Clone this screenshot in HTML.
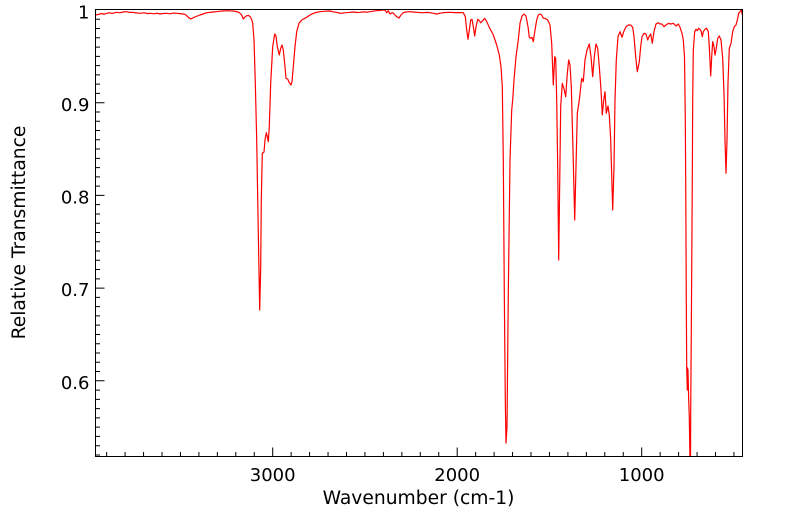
<!DOCTYPE html>
<html>
<head>
<meta charset="utf-8">
<style>
html,body{margin:0;padding:0;background:#fff;}
svg{display:block;}
text{font-family:"DejaVu Sans","Liberation Sans",sans-serif;fill:#000;}
</style>
</head>
<body>
<svg width="799" height="516" viewBox="0 0 799 516" xmlns="http://www.w3.org/2000/svg">
<defs><clipPath id="c"><rect x="95.5" y="9.5" width="647" height="447"/></clipPath></defs>
<rect width="799" height="516" fill="#fff"/>
<g clip-path="url(#c)">
<polyline fill="none" stroke="#ff0000" stroke-width="1.2" stroke-linejoin="round" points="95.5,15 98,14.5 100,14 102,13.5 104,14.2 106.7,13.3 109,12.8 112,13.4 116.7,12.3 120,12.8 123,12 126.7,11.7 130,12.4 133.3,12.3 136,12.9 140,13.3 144,12.8 148,13.6 150,13.3 154,13.8 157,13.2 160,14 163,13.5 166.7,13.3 170,13.8 173,13.1 176.7,13.3 180,13.6 183,14 185,14.3 187,16 188.3,17.3 190.7,19 193.3,17.7 196,16.5 200,15 203,14 206.7,12.7 210,12.4 213,12 216.7,11.7 220,11.2 223,11 226.7,10.7 230,10.9 233.3,11 236,11.5 239.3,12.5 241.7,15 243.3,19 245,17 246.7,15.7 248.5,15.5 250,16.5 251.5,19 252.7,23.3 254,40 255.3,83 256.7,140 258.3,233 259.7,310 260.7,267 261.3,200 262.3,153 263,153 264,152 265,140 266.3,132.7 267.3,136.7 268.3,141.7 269.3,126.7 270.7,83 272.7,46.7 274.7,34 276,36 277.3,46.7 279.3,55 280.7,48.3 282,45 283.3,50 285,66.7 286,78.3 287.7,79 289.3,82.7 291,85 292,81.7 293.3,66.7 295,46.7 296.7,31.7 299,23.3 301.7,20 306.7,17.3 310,15 313.3,13.3 316,12.5 320,11.7 325,11.2 330,11 333,11.8 336.7,12.3 339,13 341.7,13.3 344,12.8 346.7,12.7 350,12.3 353.3,12 357,12.5 360,12.3 364,11.9 367,12.2 370,11.7 373,11.2 376.7,10.7 380,10.4 383.3,10 385,10 386.7,12.7 388.3,10.7 390,14 391.5,13 392.7,12.7 395,15 396.7,16.7 399,18 401,15 403.3,12.7 406,12 410,11.7 413,12 416.7,12.3 420,12.6 423.3,12.7 427,12.4 430,12.7 433,13.2 436.7,14 440,13.2 443.3,12.7 446,12.5 450,12.3 455,12.6 460,12.6 463.3,12.7 465.3,16.7 466.7,30 468,39.3 469.3,30 470.7,20 472,19.3 473.3,26.7 474.7,36 476,26.7 477.7,19.3 479.3,20.7 480.7,22.7 482.7,20.7 484.7,18.3 486.7,21.7 489.3,27.3 493.3,35 496.7,45 499.3,55 501,66.7 502.3,86.7 503.3,160 504.3,293 505.3,400 506,443 507,427 508.3,293 510,160 511.7,110 512.7,100 514,80 516,56.7 518.3,40 520,23.3 522,16 524,14 526,16 528,26.7 529.3,37.3 530.7,38.3 532,37.3 533.3,41.7 535,30 536.7,20 538.3,15 540,14 541.7,15 543.3,18.3 545,18.3 547.7,20 550,25 551.7,43.3 553.3,85 554.7,56.7 555.7,58.3 556.7,100 557.7,166.7 558.7,260 559.7,183 560.7,106.7 562.3,83.3 564.3,90 565.7,96.7 567.3,73.3 568.7,60 570,65 571.3,86.7 573,150 574.7,220 576,166.7 577.3,113.3 579.3,100 581.7,78.3 583.3,81.7 585,60 587,50 589.3,44 591,56.7 592.7,76.7 594.3,56.7 596,44 597.7,48.3 599.3,66.7 601,90 602.3,115 603.7,100 605,91.7 606.3,113.3 608,106 609.3,115 610.7,140 612.7,210 614,166.7 615,100 616.3,60 618,36.7 620,31.7 622,37.3 623.7,31.7 626,26.7 628.3,25 630.7,25 632.7,27.3 634,36.7 635.7,56.7 637.3,71.7 639.3,61.7 640.7,46.7 642,36.7 644,33.3 646,34 647.7,40 649,36.7 650.7,34 652.3,43.3 654,31.7 656,24 658,22.7 660,24 662,24 664,26.7 666,25 668.7,23.3 670.7,24 673.3,23.3 676,26 678.3,24 680,27.3 682,33.3 683.3,40 684.5,56.7 685.3,120 685.7,180 686.3,300 686.7,366.7 687.3,390 687.4,368 688,370 688.7,400 689.3,416.7 690,462 690.5,462 690.7,413 691.3,330 692.3,180 692.7,100 693.3,50 694.7,31.7 696,29.3 697.3,30.7 698.7,28.3 700,29.3 701.3,31.7 702.3,36.7 703.3,31.7 705,29.3 706.7,28.3 708.3,31.7 709.3,46.7 710.7,76 711.7,56.7 712.7,41.7 714,46.7 715,55 716,50 717.7,38.3 719.3,36 721,40 722.7,58.3 724,93.3 725,140 726,173.3 727,140 728,83.3 729.3,48.3 731,43.3 732.7,31.7 734.3,26.7 736,25 737.3,20 738.7,13.3 740,11.7 741.3,10 742.3,15"/>
</g>
<rect x="95.5" y="9.5" width="647" height="447" fill="none" stroke="#000" stroke-width="1"/>
<path stroke="#000" stroke-width="1" fill="none" d="M272.7 456.5v-9M457.2 456.5v-9M641.7 456.5v-9M106.65 456.5v-4.5M125.1 456.5v-4.5M143.55 456.5v-4.5M162 456.5v-4.5M180.45 456.5v-4.5M198.9 456.5v-4.5M217.35 456.5v-4.5M235.8 456.5v-4.5M254.25 456.5v-4.5M291.15 456.5v-4.5M309.6 456.5v-4.5M328.05 456.5v-4.5M346.5 456.5v-4.5M364.95 456.5v-4.5M383.4 456.5v-4.5M401.85 456.5v-4.5M420.3 456.5v-4.5M438.75 456.5v-4.5M475.65 456.5v-4.5M494.1 456.5v-4.5M512.55 456.5v-4.5M531 456.5v-4.5M549.45 456.5v-4.5M567.9 456.5v-4.5M586.35 456.5v-4.5M604.8 456.5v-4.5M623.25 456.5v-4.5M660.15 456.5v-4.5M678.6 456.5v-4.5M697.05 456.5v-4.5M715.5 456.5v-4.5M733.95 456.5v-4.5"/>
<path stroke="#000" stroke-width="1" fill="none" d="M95.5 102.7h9M95.5 195.4h9M95.5 288.1h9M95.5 380.8h9M95.5 19.27h4.5M95.5 28.54h4.5M95.5 37.81h4.5M95.5 47.08h4.5M95.5 56.35h4.5M95.5 65.62h4.5M95.5 74.89h4.5M95.5 84.16h4.5M95.5 93.43h4.5M95.5 111.97h4.5M95.5 121.24h4.5M95.5 130.51h4.5M95.5 139.78h4.5M95.5 149.05h4.5M95.5 158.32h4.5M95.5 167.59h4.5M95.5 176.86h4.5M95.5 186.13h4.5M95.5 204.67h4.5M95.5 213.94h4.5M95.5 223.21h4.5M95.5 232.48h4.5M95.5 241.75h4.5M95.5 251.02h4.5M95.5 260.29h4.5M95.5 269.56h4.5M95.5 278.83h4.5M95.5 297.37h4.5M95.5 306.64h4.5M95.5 315.91h4.5M95.5 325.18h4.5M95.5 334.45h4.5M95.5 343.72h4.5M95.5 352.99h4.5M95.5 362.26h4.5M95.5 371.53h4.5M95.5 390.07h4.5M95.5 399.34h4.5M95.5 408.61h4.5M95.5 417.88h4.5M95.5 427.15h4.5M95.5 436.42h4.5M95.5 445.69h4.5M95.5 454.96h4.5"/>
<g font-size="18" text-anchor="end">
<text x="89.5" y="18.5">1</text>
<text x="89.5" y="110.8">0.9</text>
<text x="89.5" y="203.4">0.8</text>
<text x="89.5" y="296.1">0.7</text>
<text x="89.5" y="389">0.6</text>
</g>
<g font-size="18" text-anchor="middle">
<text x="272.7" y="481">3000</text>
<text x="457.2" y="481">2000</text>
<text x="641.7" y="481">1000</text>
</g>
<text x="418.5" y="504" font-size="18.7" text-anchor="middle">Wavenumber (cm-1)</text>
<text transform="translate(25,232.5) rotate(-90)" font-size="18.7" text-anchor="middle">Relative Transmittance</text>
</svg>
</body>
</html>
